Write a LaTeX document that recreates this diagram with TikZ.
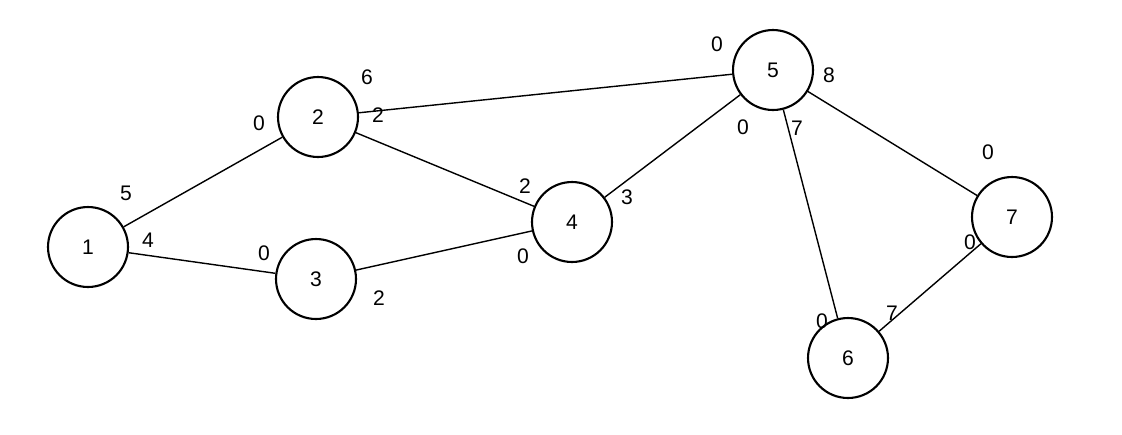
\documentclass[tikz,border=0pt]{standalone}
\usepackage{fontspec}
\setmainfont{Liberation Sans}
\begin{document}
\begin{tikzpicture}[x=0.02cm,y=-0.02cm,
  vtx/.style={circle,draw,line width=1.2pt,minimum size=1.6cm,inner sep=0pt,font=\large},
  lab/.style={font=\large,inner sep=0pt},
  edge/.style={line width=0.8pt}]
\useasboundingbox (0,0) rectangle (1122,434);
\node[vtx] (n1) at (88,247) {1};
\node[vtx] (n2) at (318,117) {2};
\node[vtx] (n3) at (316,279) {3};
\node[vtx] (n4) at (572,222) {4};
\node[vtx] (n5) at (773,70) {5};
\node[vtx] (n6) at (848,358) {6};
\node[vtx] (n7) at (1012,217) {7};
\draw[edge] (n1) -- (n2);
\draw[edge] (n1) -- (n3);
\draw[edge] (n2) -- (n5);
\draw[edge] (n2) -- (n4);
\draw[edge] (n3) -- (n4);
\draw[edge] (n4) -- (n5);
\draw[edge] (n5) -- (n7);
\draw[edge] (n5) -- (n6);
\draw[edge] (n6) -- (n7);
\node[lab] (a1) at (126,193) {5};
\node[lab] (a2) at (148,240) {4};
\node[lab] (a3) at (259,123) {0};
\node[lab] (a4) at (367,77) {6};
\node[lab] (a5) at (378,115) {2};
\node[lab] (a6) at (264,253) {0};
\node[lab] (a7) at (379,298) {2};
\node[lab] (a8) at (525,186) {2};
\node[lab] (a9) at (627,197) {3};
\node[lab] (a10) at (523,256) {0};
\node[lab] (a11) at (717,44) {0};
\node[lab] (a12) at (829,75) {8};
\node[lab] (a13) at (743,127) {0};
\node[lab] (a14) at (797,128) {7};
\node[lab] (a15) at (822,321) {0};
\node[lab] (a16) at (892,313) {7};
\node[lab] (a17) at (988,152) {0};
\node[lab] (a18) at (970,242) {0};
\end{tikzpicture}
\end{document}
